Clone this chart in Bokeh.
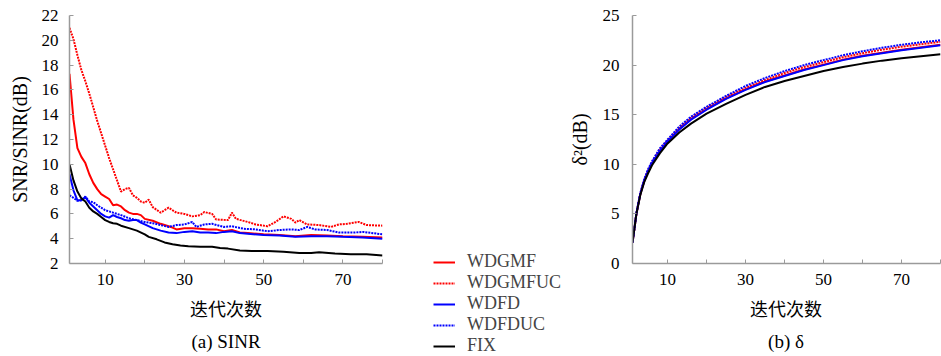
from bokeh.plotting import figure
from bokeh.layouts import row, column
from bokeh.models import Range1d, FixedTicker, Legend, LegendItem
from bokeh.core.properties import value
from bokeh.embed import file_html
from bokeh.resources import INLINE

# ---------------- data ----------------
# (a) SINR  (dB) vs iterations
WDGMF_X = [1, 2, 3, 4, 5, 6, 7, 8, 9, 10, 11, 12, 13, 14, 15, 16, 17, 18, 19, 20,
           22, 24, 26, 27, 28, 30, 32, 34, 36, 38, 40, 42, 44, 46, 50, 54, 58, 62, 66, 70, 75, 80]
WDGMF_Y = [17.3, 13.6, 11.3, 10.6, 10.1, 9.2, 8.5, 8.0, 7.6, 7.4, 7.2, 6.7, 6.75, 6.6, 6.3, 6.1, 6.0, 6.0, 5.9, 5.6,
           5.45, 5.2, 5.0, 4.9, 4.75, 4.85, 4.85, 4.8, 4.75, 4.75, 4.6, 4.7, 4.5, 4.45, 4.35, 4.3, 4.2, 4.3, 4.25, 4.2, 4.15, 4.1]

WDGMFUC_X = [1, 2, 3, 4, 5, 6, 7, 8, 9, 10, 11, 12, 13, 14, 15, 16, 17, 18, 19, 20, 21, 22,
             24, 26, 28, 30, 32, 34, 35, 37, 38, 41, 42, 43, 46, 48, 51, 53, 55, 57, 58, 59, 61, 64, 67, 69, 71, 74, 76, 80]
WDGMFUC_Y = [21.0, 20.1, 18.8, 17.6, 16.7, 15.7, 14.6, 13.5, 12.5, 11.5, 10.5, 9.6, 8.7, 7.8, 8.0, 8.1, 7.5, 7.3, 7.0, 6.9, 7.15, 6.55,
             6.1, 6.5, 6.1, 6.0, 5.8, 5.9, 6.15, 6.0, 5.55, 5.5, 6.1, 5.6, 5.35, 5.15, 5.0, 5.35, 5.8, 5.6, 5.3, 5.5, 5.15, 5.1, 4.95, 5.15, 5.2, 5.35, 5.1, 5.05]

WDFD_X = [1, 2, 3, 4, 5, 6, 7, 8, 9, 10, 11, 12, 13, 14, 15, 16, 17, 18, 19, 20,
          22, 24, 26, 28, 30, 32, 34, 36, 38, 40, 42, 44, 46, 50, 54, 58, 62, 66, 70, 75, 80]
WDFD_Y = [9.2, 7.9, 7.1, 7.1, 7.35, 6.9, 6.6, 6.3, 6.0, 5.8, 5.7, 5.9, 5.75, 5.65, 5.5, 5.45, 5.5, 5.5, 5.3, 5.15,
          4.85, 4.65, 4.5, 4.45, 4.55, 4.6, 4.5, 4.5, 4.45, 4.55, 4.6, 4.45, 4.4, 4.3, 4.25, 4.15, 4.2, 4.2, 4.15, 4.1, 4.0]

WDFDUC_X = [1, 2, 3, 4, 5, 6, 7, 8, 9, 10, 11, 12, 13, 14,
            16, 18, 20, 22, 24, 26, 28, 30, 32, 33, 35, 37, 40, 42, 45, 48, 51, 54, 57, 59, 61, 63, 66, 69, 73, 75, 80]
WDFDUC_Y = [7.5, 7.3, 7.05, 7.1, 7.4, 7.0, 6.95, 6.7, 6.5, 6.3, 6.2, 6.1, 6.0, 5.9,
            5.65, 5.5, 5.35, 5.25, 5.1, 4.95, 5.1, 5.15, 5.35, 4.95, 5.15, 5.2, 4.95, 5.0, 4.8, 4.75, 4.6, 4.7, 4.75, 4.7, 4.95, 4.75, 4.7, 4.5, 4.5, 4.55, 4.35]

FIX_X = [1, 2, 3, 4, 5, 6, 7, 8, 9, 10, 11, 12, 13, 14,
         16, 18, 20, 21, 23, 25, 27, 29, 31, 34, 37, 39, 41, 44, 47, 51, 55, 59, 62, 64, 68, 72, 76, 80]
FIX_Y = [10.0, 8.7, 7.8, 7.25, 7.0, 6.5, 6.2, 6.0, 5.75, 5.5, 5.35, 5.25, 5.2, 5.05,
         4.85, 4.65, 4.35, 4.15, 3.95, 3.7, 3.55, 3.45, 3.4, 3.35, 3.35, 3.25, 3.2, 3.05, 3.0, 3.0, 2.95, 2.85, 2.85, 2.9, 2.8, 2.75, 2.75, 2.65]

# (b) delta^2 (dB) vs iterations
DELTA_X = [1, 2, 3, 4, 5, 6, 8, 10, 13, 16, 20, 25, 30, 35, 40, 45, 50, 55, 60, 65, 70, 75, 80]
D_WDGMF = [2.1, 5.0, 7.0, 8.3, 9.3, 10.1, 11.35, 12.35, 13.55, 14.55, 15.55, 16.65, 17.55, 18.35, 18.95, 19.55,
           20.05, 20.55, 20.95, 21.25, 21.55, 21.8, 22.05]
D_WDGMFUC = [2.1, 5.0, 7.0, 8.4, 9.4, 10.2, 11.5, 12.4, 13.7, 14.7, 15.7, 16.8, 17.7, 18.5, 19.2, 19.8,
             20.3, 20.8, 21.2, 21.55, 21.85, 22.1, 22.35]
D_WDFD = [2.1, 5.0, 7.0, 8.3, 9.3, 10.1, 11.3, 12.3, 13.5, 14.5, 15.5, 16.6, 17.5, 18.3, 18.9, 19.5,
          20.0, 20.5, 20.9, 21.2, 21.5, 21.75, 22.0]
D_WDFDUC = [2.1, 5.1, 7.1, 8.5, 9.5, 10.3, 11.6, 12.5, 13.8, 14.8, 15.8, 16.9, 17.9, 18.7, 19.4, 20.0,
            20.5, 21.0, 21.4, 21.75, 22.05, 22.3, 22.5]
D_FIX = [2.1, 5.0, 6.9, 8.2, 9.1, 9.9, 11.1, 12.1, 13.2, 14.1, 15.1, 16.1, 17.0, 17.8, 18.4, 18.9,
         19.4, 19.8, 20.15, 20.45, 20.7, 20.9, 21.1]

SERIES = ["WDGMF", "WDGMFUC", "WDFD", "WDFDUC", "FIX"]
COLORS = ["#ff0000", "#ff0000", "#0000ff", "#0000ff", "#000000"]
DASHES = ["solid", "2 1", "solid", "2 1", "solid"]

X_TICKS = [10, 20, 30, 40, 50, 60, 70, 80]
X_TICK_LABELS = ["10", "", "30", "", "50", "", "70", ""]
Y1_TICKS = [2, 4, 6, 8, 10, 12, 14, 16, 18, 20, 22]
Y2_TICKS = [0, 5, 10, 15, 20, 25]
X_LABEL = "迭代次数"
Y_LABELS = ["SNR/SINR(dB)", "δ²(dB)"]
CAPTIONS = ["(a) SINR", "(b) δ"]

SERIF = "Liberation Serif"
CJK = "Noto Sans CJK SC"
AXIS_GRAY = "#9a9a9a"

H = 356          # total height (page has no margin)
S = 63           # strip under each plot (x label + caption)
PH = H - S       # plot height
TOP = 15
BOTTOM = 30
XLAB_Y = 49      # strip text positions (px from strip bottom)
CAP_Y = 15

W1, L1, R1 = 400, 69, 18
WL = 165
W2, L2, R2 = 376, 66, 1


def style(p, yticks, ylabel):
    p.grid.visible = False
    p.outline_line_color = None
    p.background_fill_color = "white"
    p.border_fill_color = "white"
    p.xaxis.ticker = FixedTicker(ticks=X_TICKS)
    p.xaxis.major_label_overrides = {t: l for t, l in zip(X_TICKS, X_TICK_LABELS)}
    p.yaxis.ticker = FixedTicker(ticks=yticks)
    for ax in (p.xaxis[0], p.yaxis[0]):
        ax.axis_line_color = AXIS_GRAY
        ax.axis_line_width = 1.5
        ax.major_tick_line_color = AXIS_GRAY
        ax.major_tick_line_width = 1
        ax.major_tick_in = 4
        ax.major_tick_out = 0
        ax.minor_tick_line_color = None
        ax.major_label_text_font = SERIF
        ax.major_label_text_font_size = "17px"
        ax.major_label_text_color = "black"
        ax.axis_label_text_font_style = "normal"
        ax.axis_label_text_color = "black"
    p.xaxis.major_label_standoff = 10
    p.yaxis.major_label_standoff = 11
    p.yaxis.axis_label = ylabel
    p.yaxis.axis_label_text_font = SERIF
    p.yaxis.axis_label_text_font_size = "20px"
    p.yaxis.axis_label_standoff = 8


def strip_fig(width, left, right, caption):
    c = figure(width=width, height=S, output_backend="svg", toolbar_location=None,
               x_range=Range1d(0, width), y_range=Range1d(0, S), min_border=0,
               x_axis_type=None, y_axis_type=None)
    c.frame_align = False
    c.grid.visible = False
    c.outline_line_color = None
    cx = left + (width - left - right) / 2
    c.text(x=[cx], y=[XLAB_Y], text=[X_LABEL],
           text_font=value(CJK), text_font_size="18px", text_align="center",
           text_baseline="middle", text_color="black")
    c.text(x=[cx], y=[CAP_Y], text=[caption],
           text_font=value(SERIF), text_font_size="19px", text_align="center",
           text_baseline="middle", text_color="black")
    return c


# ---------------- (a) SINR ----------------
p1 = figure(width=W1, height=PH, output_backend="svg", toolbar_location=None,
            x_range=Range1d(1, 80), y_range=Range1d(2, 22),
            min_border_left=L1, min_border_right=R1, min_border_top=TOP, min_border_bottom=BOTTOM)
style(p1, Y1_TICKS, Y_LABELS[0])

sinr = [(WDGMF_X, WDGMF_Y), (WDGMFUC_X, WDGMFUC_Y), (WDFD_X, WDFD_Y), (WDFDUC_X, WDFDUC_Y), (FIX_X, FIX_Y)]
for (xs, ys), c, d in zip(sinr, COLORS, DASHES):
    p1.line(xs, ys, line_color=c, line_width=2, line_dash=d)

strip1 = strip_fig(W1, L1, R1, CAPTIONS[0])

# ---------------- legend panel ----------------
pl = figure(width=WL, height=H, output_backend="svg", toolbar_location=None,
            x_range=Range1d(1000, 1001), y_range=Range1d(1000, 1001),
            min_border=0, x_axis_type=None, y_axis_type=None)
pl.frame_align = False
pl.grid.visible = False
pl.outline_line_color = None
leg_r = []
for (xs, ys), c, d in zip(sinr, COLORS, DASHES):
    leg_r.append(pl.line(xs, ys, line_color=c, line_width=2, line_dash=d))
legend = Legend(items=[LegendItem(label=s, renderers=[r]) for s, r in zip(SERIES, leg_r)],
                location=(33, 0), border_line_color=None, background_fill_alpha=0,
                padding=0, margin=0, spacing=0, glyph_width=22, glyph_height=20,
                label_height=20, label_standoff=12, label_text_font=SERIF,
                label_text_font_size="18px")
pl.add_layout(legend)

# ---------------- (b) delta ----------------
p2 = figure(width=W2, height=PH, output_backend="svg", toolbar_location=None,
            x_range=Range1d(1, 80), y_range=Range1d(0, 25),
            min_border_left=L2, min_border_right=R2, min_border_top=TOP, min_border_bottom=BOTTOM)
style(p2, Y2_TICKS, Y_LABELS[1])
p2.yaxis.major_label_standoff = 13
p2.yaxis.axis_label_standoff = 9

for ys, c, d in zip([D_WDGMF, D_WDGMFUC, D_WDFD, D_WDFDUC, D_FIX], COLORS, DASHES):
    p2.line(DELTA_X, ys, line_color=c, line_width=2, line_dash=d)

strip2 = strip_fig(W2, L2, R2, CAPTIONS[1])

layout = row(column(p1, strip1), pl, column(p2, strip2))
open("out.html", "w").write(file_html(layout, INLINE))
